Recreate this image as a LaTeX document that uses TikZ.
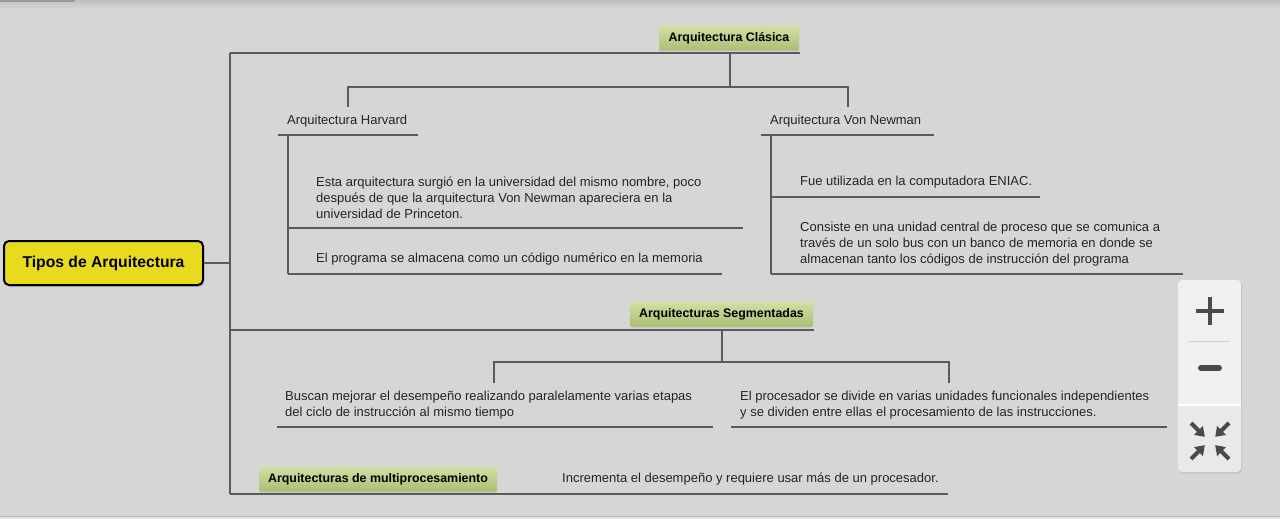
\documentclass[tikz,border=0pt]{standalone}
\usepackage{fontspec}
\setmainfont{Liberation Sans}
\usetikzlibrary{shadows,arrows.meta}
\definecolor{bgc}{HTML}{D6D7D5}
\definecolor{linec}{HTML}{5A5A5A}
\definecolor{txtc}{HTML}{242424}
\definecolor{yel}{HTML}{E8DB1E}
\definecolor{gtop}{HTML}{D3E0A6}
\definecolor{gbot}{HTML}{A9BF72}
\definecolor{ctrl}{HTML}{F0F0EE}
\definecolor{ctrl2}{HTML}{E9E9E7}
\definecolor{icon}{HTML}{4A4A4A}
\tikzset{
  conn/.style={draw=linec, line width=1.2pt},
  txt/.style={anchor=west, inner sep=0pt, text=txtc, font=\fontsize{13}{16}\selectfont, align=left},
  greenbox/.style={rectangle, rounded corners=2pt, top color=gtop, bottom color=gbot, inner sep=0pt,
     minimum height=25pt, text=black, font=\fontsize{12.4}{14}\bfseries\selectfont,
     drop shadow={shadow xshift=0pt, shadow yshift=-1pt, opacity=0.25}},
  mainbox/.style={rectangle, rounded corners=5pt, fill=yel, draw=black, line width=2pt,
     minimum width=199pt, minimum height=44pt, inner sep=0pt, font=\fontsize{15.7}{18}\bfseries\selectfont,
     drop shadow={shadow xshift=1pt, shadow yshift=-2pt, opacity=0.35}},
  ctrlbar/.style={line width=4.5pt, draw=icon},
  arr/.style={line width=4pt, draw=icon, -{Triangle[length=9pt,width=12pt]}, shorten >=-4pt}
}
\begin{document}
\begin{tikzpicture}[x=1pt,y=-1pt]
\useasboundingbox (0,0) rectangle (1280,519);
\fill[bgc] (0,0) rectangle (1280,519);
% top shadow strip
\shade[top color=black!25, bottom color=bgc] (0,0) rectangle (1280,9);
\fill[black!40] (0,0) rectangle (75,2.5);
% bottom strip
\fill[black!28] (0,515.5) rectangle (1280,517);
\fill[black!10] (0,517) rectangle (1280,519);

% main node
\node[mainbox] (main) at (103.5,263) {Tipos de Arquitectura};

% green boxes
\node[greenbox, minimum width=140pt] (clasica) at (729,38) {Arquitectura Clásica};
\node[greenbox, minimum width=183pt] (segm) at (721.5,314) {Arquitecturas Segmentadas};
\node[greenbox, minimum width=238pt] (multi) at (378,479) {Arquitecturas de multiprocesamiento};

% text nodes
\node[txt] (harv) at (287,121) {Arquitectura Harvard};
\node[txt] (vn) at (770,121) {Arquitectura Von Newman};
\node[txt] (h1) at (316,198) {Esta arquitectura surgió en la universidad del mismo nombre, poco\\después de que la arquitectura Von Newman apareciera en la\\universidad de Princeton.};
\node[txt] (h2) at (316,259) {El programa se almacena como un código numérico en la memoria};
\node[txt] (v1) at (800,182) {Fue utilizada en la computadora ENIAC.};
\node[txt] (v2) at (800,244) {Consiste en una unidad central de proceso que se comunica a\\través de un solo bus con un banco de memoria en donde se\\almacenan tanto los códigos de instrucción del programa};
\node[txt] (s1) at (285,405) {Buscan mejorar el desempeño realizando paralelamente varias etapas\\del ciclo de instrucción al mismo tiempo};
\node[txt] (s2) at (740,405) {El procesador se divide en varias unidades funcionales independientes\\y se dividen entre ellas el procesamiento de las instrucciones.};
\node[txt] (m1) at (562,479) {Incrementa el desempeño y requiere usar más de un procesador.};

% coordinates for the tree
\coordinate (trunkTop) at (230,53);
\coordinate (trunkBot) at (230,494);
\coordinate (mainJ) at (230,263);
\coordinate (clasE) at (800,53);
\coordinate (clasJ) at (730,53);
\coordinate (clasK) at (730,87);
\coordinate (harvT) at (348,87);
\coordinate (harvB) at (348,107);
\coordinate (vnT) at (848,87);
\coordinate (vnB) at (848,107);
\coordinate (harvUL) at (278,135);
\coordinate (harvUR) at (418,135);
\coordinate (harvV) at (288,135);
\coordinate (harvV2) at (288,228);
\coordinate (harvV3) at (288,274);
\coordinate (h1R) at (743,228);
\coordinate (h2R) at (722,274);
\coordinate (vnUL) at (761,135);
\coordinate (vnUR) at (934,135);
\coordinate (vnV) at (771,135);
\coordinate (vnV2) at (771,197);
\coordinate (vnV3) at (771,274);
\coordinate (v1R) at (1040,197);
\coordinate (v2R) at (1183,274);
\coordinate (segL) at (230,330);
\coordinate (segE) at (814,330);
\coordinate (segJ) at (722,330);
\coordinate (segK) at (722,362);
\coordinate (s1T) at (494,362);
\coordinate (s1B) at (494,383);
\coordinate (s2T) at (949,362);
\coordinate (s2B) at (949,383);
\coordinate (s1UL) at (277,427);
\coordinate (s1UR) at (713,427);
\coordinate (s2UL) at (731,427);
\coordinate (s2UR) at (1167,427);
\coordinate (multE) at (948,494);

\draw[conn] (main.east) -- (mainJ);
\draw[conn] (trunkTop) -- (trunkBot);
\draw[conn] (trunkTop) -- (clasE);
\draw[conn] (clasJ) -- (clasK);
\draw[conn] (harvB) -- (harvT) -- (vnT) -- (vnB);
\draw[conn] (harvUL) -- (harvUR);
\draw[conn] (harvV) -- (harvV3);
\draw[conn] (harvV2) -- (h1R);
\draw[conn] (harvV3) -- (h2R);
\draw[conn] (vnUL) -- (vnUR);
\draw[conn] (vnV) -- (vnV3);
\draw[conn] (vnV2) -- (v1R);
\draw[conn] (vnV3) -- (v2R);
\draw[conn] (segL) -- (segE);
\draw[conn] (segJ) -- (segK);
\draw[conn] (s1B) -- (s1T) -- (s2T) -- (s2B);
\draw[conn] (s1UL) -- (s1UR);
\draw[conn] (s2UL) -- (s2UR);
\draw[conn] (trunkBot) -- (multE);

% zoom control
\node[rectangle, rounded corners=4pt, fill=ctrl, minimum width=63pt, minimum height=192pt, inner sep=0pt,
  drop shadow={shadow xshift=1pt, shadow yshift=-1.5pt, opacity=0.25}] (zc) at (1209.5,376) {};
\fill[ctrl2] (1178,406) -- (1241,406) -- (1241,468) arc (0:90:4) -- (1182,472) arc (90:180:4) -- cycle;
\draw[white, line width=2pt] (1178,405) -- (1241,405);
\draw[black!18, line width=1pt] (1189,341) -- (1230,341);
\draw[ctrlbar] (1196,311) -- (1224,311);
\draw[ctrlbar] (1210,297) -- (1210,325);
\draw[line width=6pt, draw=icon, line cap=round] (1201,368) -- (1219,368);
\coordinate (icTL) at (1191,423);
\coordinate (icTR) at (1229,423);
\coordinate (icBL) at (1191,459);
\coordinate (icBR) at (1229,459);
\coordinate (icTLh) at (1202,434);
\coordinate (icTRh) at (1218,434);
\coordinate (icBLh) at (1202,448);
\coordinate (icBRh) at (1218,448);
\draw[arr] (icTL) -- (icTLh);
\draw[arr] (icTR) -- (icTRh);
\draw[arr] (icBL) -- (icBLh);
\draw[arr] (icBR) -- (icBRh);
\end{tikzpicture}
\end{document}
